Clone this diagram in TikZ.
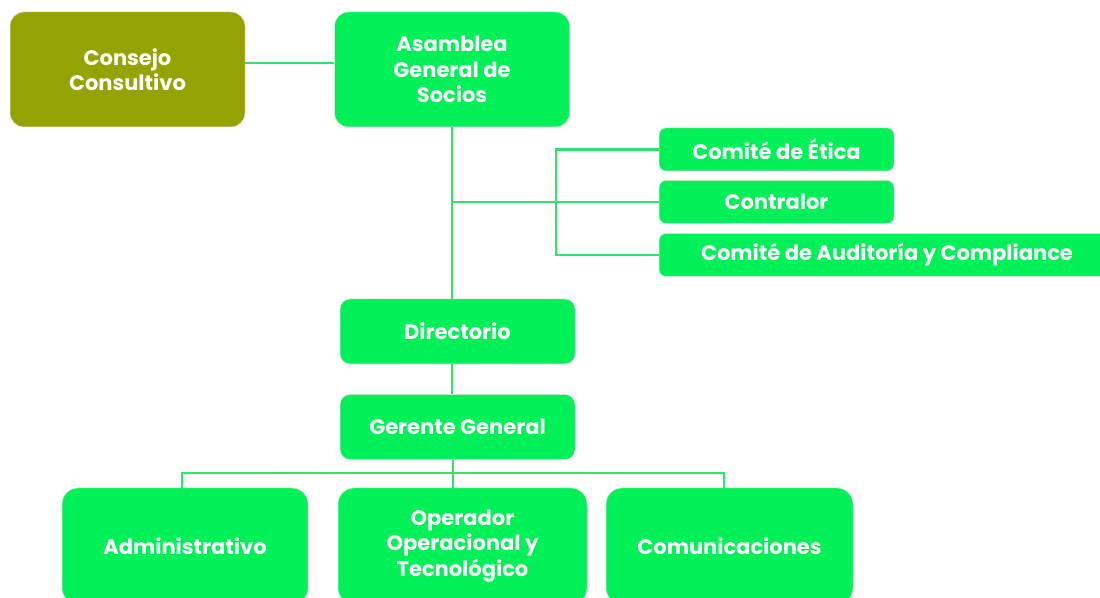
\documentclass[tikz,border=0pt]{standalone}
\usepackage{fontspec}
\setmainfont{Poppins}
\usepackage{tikz}
\usetikzlibrary{positioning}
\definecolor{boxgreen}{HTML}{00F057}
\definecolor{boxolive}{HTML}{95A300}
\definecolor{linegreen}{HTML}{2FE36C}
\tikzset
{
    orgbox/.style  = {draw=white!80!gray, line width=0.5pt, fill=boxgreen, text=white, align=center, rounded corners=14pt, font=\bfseries\fontsize{21}{25.5}\selectfont},
    bigbox/.style  = {orgbox, minimum width=235pt, minimum height=115pt},
    midbox/.style  = {orgbox, minimum width=235pt, minimum height=65pt, rounded corners=10pt},
    smallbox/.style= {orgbox, minimum width=235pt, minimum height=43pt, rounded corners=7pt},
    areabox/.style = {orgbox, minimum width=247pt, minimum height=116pt, rounded corners=16pt},
    orgline/.style = {draw=linegreen, line width=2.4pt}
}

\begin{document}
\begin{tikzpicture}[x=1pt, y=1pt]
    \clip (0,0) rectangle (1100,597);
    \node [bigbox, fill=boxolive] (consejo) at (127.5,527.5) {Consejo\\Consultivo};
    \node [bigbox] (asamblea) at (452,527.5) {Asamblea\\General de\\Socios};
    \node [smallbox] (etica) at (776.5,447.5) {Comité de Ética};
    \node [smallbox] (contralor) at (776.5,395) {Contralor};
    \node [smallbox, minimum width=456pt] (auditoria) at (887,342) {Comité de Auditoría y Compliance};
    \node [midbox] (directorio) at (457.5,265.5) {Directorio};
    \node [midbox] (gerente) at (457.5,170) {Gerente General};
    \node [areabox, minimum width=246pt] (admin) at (185,51) {Administrativo};
    \node [areabox, minimum width=249pt] (operador) at (462.5,51) {Operador\\Operacional y\\Tecnológico};
    \node [areabox] (comunic) at (729.5,51) {Comunicaciones};

    \coordinate (link) at (290,534);
    \coordinate (brk) at (556,395);
    \coordinate (bus) at (453,124);

    \draw [orgline] (consejo.east |- link) -- (asamblea.west |- link);
    \draw [orgline] (asamblea.south) -- (asamblea.south |- directorio.north);
    \draw [orgline] (asamblea.south |- contralor.west) -- (contralor.west);
    \draw [orgline] (etica.west) -| (brk |- auditoria.west) -- (auditoria.west);
    \draw [orgline] (directorio.south -| asamblea.south) -- (gerente.north -| asamblea.south);
    \draw [orgline] (gerente.south -| bus) -- (bus |- operador.north);
    \draw [orgline] (admin.north -| 182,0) |- (bus) -| (comunic.north -| 724,0);
\end{tikzpicture}
\end{document}
